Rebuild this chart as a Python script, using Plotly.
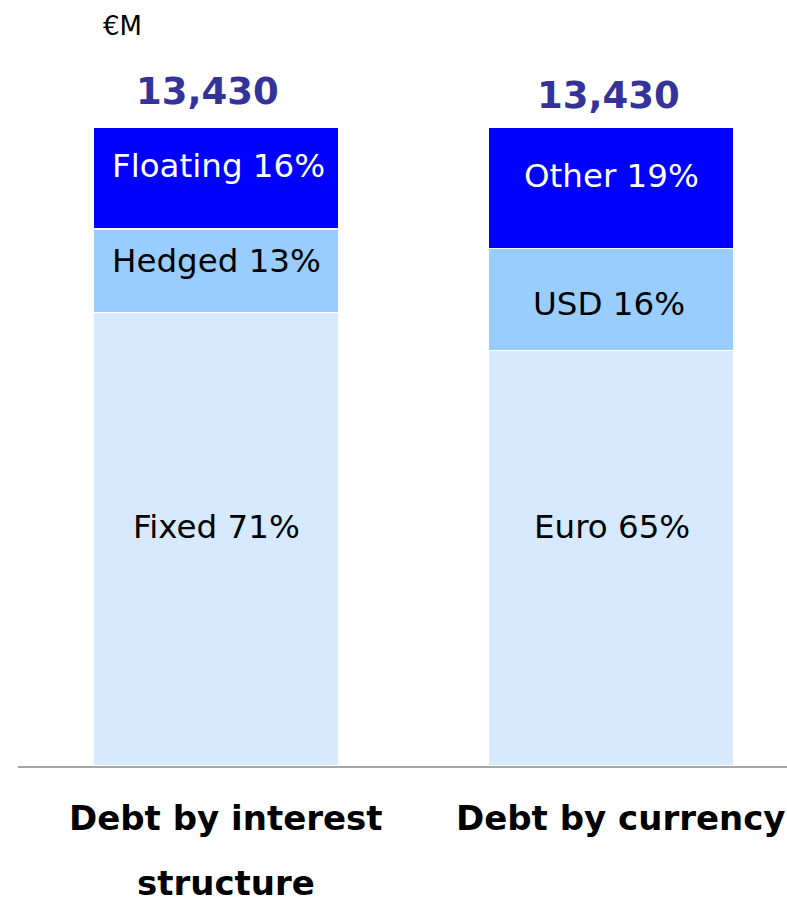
import plotly.graph_objects as go

categories = ["Debt by interest structure", "Debt by currency"]
category_lines = [["Debt by interest", "structure"], ["Debt by currency"]]
totals = [13430, 13430]
unit_label = "€M"

bottom_names = ["Fixed", "Euro"]
bottom_values = [71, 65]
middle_names = ["Hedged", "USD"]
middle_values = [13, 16]
top_names = ["Floating", "Other"]
top_values = [16, 19]

FONT = "DejaVu Sans"
layers = [
    (bottom_names, bottom_values, "#D6E9FF", "black", [12, 31], [1, 1]),
    (middle_names, middle_values, "#99CCFF", "black", [10, -4], [1, -2]),
    (top_names, top_values, "#0000FF", "white", [12, 12], [3, 1]),
]

fig = go.Figure()
annotations = []
base = [0.0] * len(categories)
for names, values, color, tcolor, shifts, xshifts in layers:
    fig.add_trace(go.Bar(
        x=categories, y=values, marker=dict(color=color, line=dict(color="white", width=1.5)),
        width=0.62, showlegend=False, hoverinfo="skip",
    ))
    for i, (n, v) in enumerate(zip(names, values)):
        annotations.append(dict(
            x=categories[i], y=base[i] + v / 2, xref="x", yref="y",
            text=f"{n} {v}%", showarrow=False, yshift=shifts[i], xshift=xshifts[i],
            font=dict(family=FONT, size=32.5, color=tcolor),
        ))
        base[i] += v

for i, t in enumerate(totals):
    annotations.append(dict(
        x=categories[i], y=base[i], xref="x", yref="y", text=f"<b>{t:,}</b>",
        showarrow=False, yshift=[36, 32][i], xshift=[-8, -2][i],
        font=dict(family=FONT, size=37, color="#333399"),
    ))

for i, lines in enumerate(category_lines):
    for j, line in enumerate(lines):
        annotations.append(dict(
            x=categories[i], y=0, xref="x", yref="paper", text=f"<b>{line}</b>",
            showarrow=False, yanchor="middle", yshift=-52 - 65 * j, xshift=10,
            font=dict(family=FONT, size=34, color="black"),
        ))

W, H = 787, 898
annotations.append(dict(
    x=(101 - 18) / 769, y=1 + (127 - 26) / 639, xref="paper", yref="paper", text=unit_label,
    showarrow=False, xanchor="left", yanchor="middle",
    font=dict(family=FONT, size=26, color="black"),
))

fig.update_layout(
    barmode="stack", width=W, height=H,
    margin=dict(l=18, r=0, t=127, b=132),
    plot_bgcolor="white", paper_bgcolor="white",
    xaxis=dict(range=[-0.501, 1.4456], showticklabels=False, showgrid=False, zeroline=False,
               showline=True, linecolor="#A6A6A6", linewidth=2, ticks=""),
    yaxis=dict(range=[0, 100], visible=False),
    annotations=annotations,
)
fig.write_html(
    "out.html",
    config={"displayModeBar": False},
    post_script="document.body.style.margin='0';document.body.style.overflow='hidden';",
)
